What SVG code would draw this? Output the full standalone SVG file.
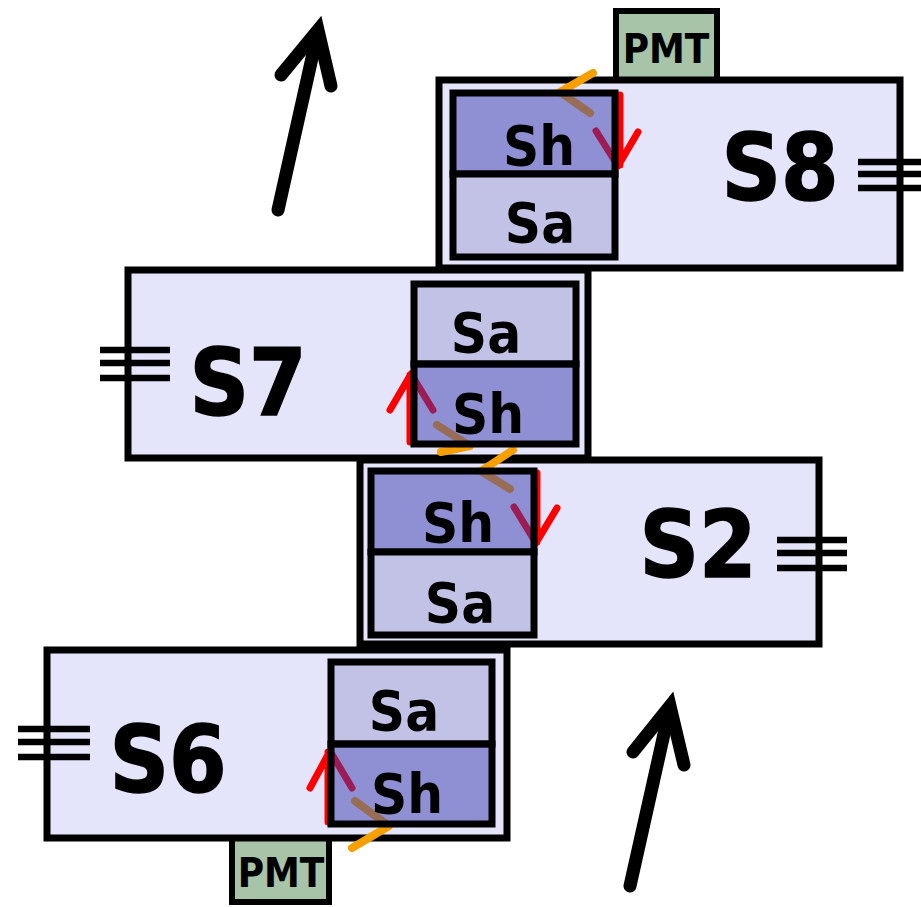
<svg xmlns="http://www.w3.org/2000/svg" width="921" height="907" viewBox="0 0 921 907">
<style>
.outer{fill:#e4e4fa;stroke:#000;stroke-width:7}
.sh{fill:#3a3aac;fill-opacity:0.5;stroke:#000;stroke-width:7}
.sa{fill:#c2c2e6;stroke:#000;stroke-width:7}
.pmt{fill:#a8c4a8;stroke:#000;stroke-width:6}
.tri{stroke:#000;stroke-width:6.5;fill:none}
.big{font-family:"DejaVu Sans Condensed","Liberation Sans",sans-serif;font-weight:bold;font-size:92px;text-anchor:middle;fill:#000;stroke:#000;stroke-width:1.5}
.lab{font-family:"DejaVu Sans Condensed","Liberation Sans",sans-serif;font-weight:bold;font-size:56px;text-anchor:middle;fill:#000}
.ptx{font-family:"DejaVu Sans Condensed","Liberation Sans",sans-serif;font-weight:bold;font-size:40px;text-anchor:middle;fill:#000}
.red{stroke:#ff0000;stroke-width:7;fill:none;stroke-linecap:round;stroke-linejoin:round}
.org{stroke:#f5a000;stroke-width:8;fill:none;stroke-linecap:round;stroke-linejoin:round}
.blk{stroke:#000;stroke-width:13;fill:none;stroke-linecap:round;stroke-linejoin:miter}
</style>

<g id="pmt-top"><rect class="pmt" x="616" y="11" width="101" height="72"/><text class="ptx" x="666" y="63">PMT</text></g>
<g id="pmt-bottom"><rect class="pmt" x="232" y="835" width="97" height="67"/><text class="ptx" x="281" y="887">PMT</text></g>

<g id="S8"><rect class="outer" x="439" y="80" width="461" height="188"/>
<path class="tri" d="M858,162H921M858,174H921M858,188H921"/>
<text class="big" x="780" y="200">S8</text></g>
<g id="S7"><rect class="outer" x="128" y="270" width="460" height="188"/>
<path class="tri" d="M100,350H170M100,363H170M100,378H170"/>
<text class="big" x="248" y="415">S7</text></g>
<g id="S2"><rect class="outer" x="360" y="460" width="459" height="184"/>
<path class="tri" d="M777,540H847M777,553H847M777,568H847"/>
<text class="big" x="698" y="577">S2</text></g>
<g id="S6"><rect class="outer" x="47" y="650" width="460" height="188"/>
<path class="tri" d="M18,729H90M18,742H90M18,757H90"/>
<text class="big" x="168" y="792">S6</text></g>

<g id="connectors">
<path class="red" d="M620,95V165M596,131L618,166L638,132"/>
<path class="red" d="M410,442V375M390,410L411,374L433,410"/>
<path class="red" d="M537,473V542M514,507L536,543L557,508"/>
<path class="red" d="M328,822V752M310,788L330,751L352,788"/>
<path class="org" d="M593,73L560,92L590,113"/>
<path class="org" d="M437,425L470,446L441,452"/>
<path class="org" d="M513,450L481,471L510,489"/>
<path class="org" d="M355,801L389,826L352,848"/>
<path class="blk" d="M278,210L316,40"/>
<path class="blk" d="M281,75L318,30L331,86"/>
<path class="blk" d="M630,886L668,716"/>
<path class="blk" d="M633,752L670,706L684,765"/>
</g>

<g id="S8-inner"><rect class="sh" x="453" y="93" width="162" height="81"/><rect class="sa" x="453" y="174" width="162" height="83"/>
<text class="lab" x="539" y="165">Sh</text><text class="lab" x="540" y="242">Sa</text></g>
<g id="S7-inner"><rect class="sa" x="414" y="284" width="162" height="80"/><rect class="sh" x="414" y="364" width="162" height="80"/>
<text class="lab" x="486" y="352">Sa</text><text class="lab" x="488" y="433">Sh</text></g>
<g id="S2-inner"><rect class="sh" x="371" y="471" width="163" height="81"/><rect class="sa" x="371" y="552" width="163" height="83"/>
<text class="lab" x="458" y="542">Sh</text><text class="lab" x="460" y="622">Sa</text></g>
<g id="S6-inner"><rect class="sa" x="331" y="662" width="161" height="82"/><rect class="sh" x="331" y="744" width="161" height="80"/>
<text class="lab" x="404" y="730">Sa</text><text class="lab" x="407" y="813">Sh</text></g>
</svg>
